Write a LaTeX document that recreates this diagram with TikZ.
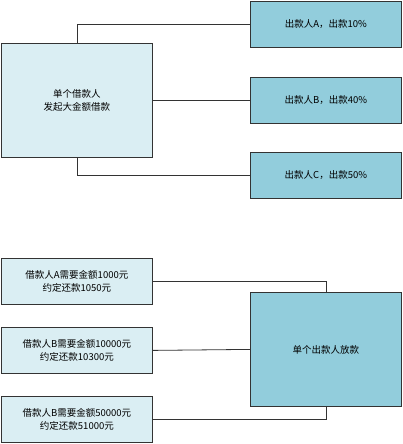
\documentclass[tikz,border=0pt]{standalone}
\usepackage{fontspec}
\setmainfont{Noto Sans CJK SC}
\usetikzlibrary{positioning}
\definecolor{lightfill}{HTML}{DAEEF3}
\definecolor{darkfill}{HTML}{92CDDC}
\tikzset{
	lightbox/.style={draw=black!80, line width=0.8pt, fill=lightfill, anchor=north west, align=center, font=\fontsize{9.5}{13}\selectfont},
	darkbox/.style={draw=black!80, line width=0.8pt, fill=darkfill, anchor=north west, align=center, font=\fontsize{9.5}{13}\selectfont},
	link/.style={draw=black!80, line width=0.8pt}
}
\begin{document}
\begin{tikzpicture}[x=1pt, y=-1pt]
	\useasboundingbox (0,0) rectangle (403,444);

	%jedan zajmoprimac
	\node[lightbox, minimum width=151pt, minimum height=114pt] (borrower) at (1,43) {单个借款人\\发起大金额借款};

	\node[darkbox, minimum width=151pt, minimum height=46pt] (lenderA) at (250,1) {出款人A，出款10\%};
	\node[darkbox, minimum width=151pt, minimum height=46pt] (lenderB) at (250,77) {出款人B，出款40\%};
	\node[darkbox, minimum width=151pt, minimum height=46pt] (lenderC) at (250,152) {出款人C，出款50\%};

	\draw[link] (borrower.north) |- (lenderA.west);
	\draw[link] (borrower.east) -- (lenderB.west);
	\draw[link] (borrower.south) |- (lenderC.west);

	%jedan zajmodavac
	\node[lightbox, minimum width=151pt, minimum height=46pt] (loanA) at (1,258) {借款人A需要金额1000元\\约定还款1050元};
	\node[lightbox, minimum width=151pt, minimum height=46pt] (loanB) at (1,327) {借款人B需要金额10000元\\约定还款10300元};
	\node[lightbox, minimum width=151pt, minimum height=46pt] (loanC) at (1,396) {借款人B需要金额50000元\\约定还款51000元};

	\node[darkbox, minimum width=151pt, minimum height=114pt] (lender) at (250,292) {单个出款人放款};

	\draw[link] (loanA.east) -| (lender.north);
	\draw[link] (loanB.east) -- (lender.west);
	\draw[link] (loanC.east) -| (lender.south);

\end{tikzpicture}
\end{document}
